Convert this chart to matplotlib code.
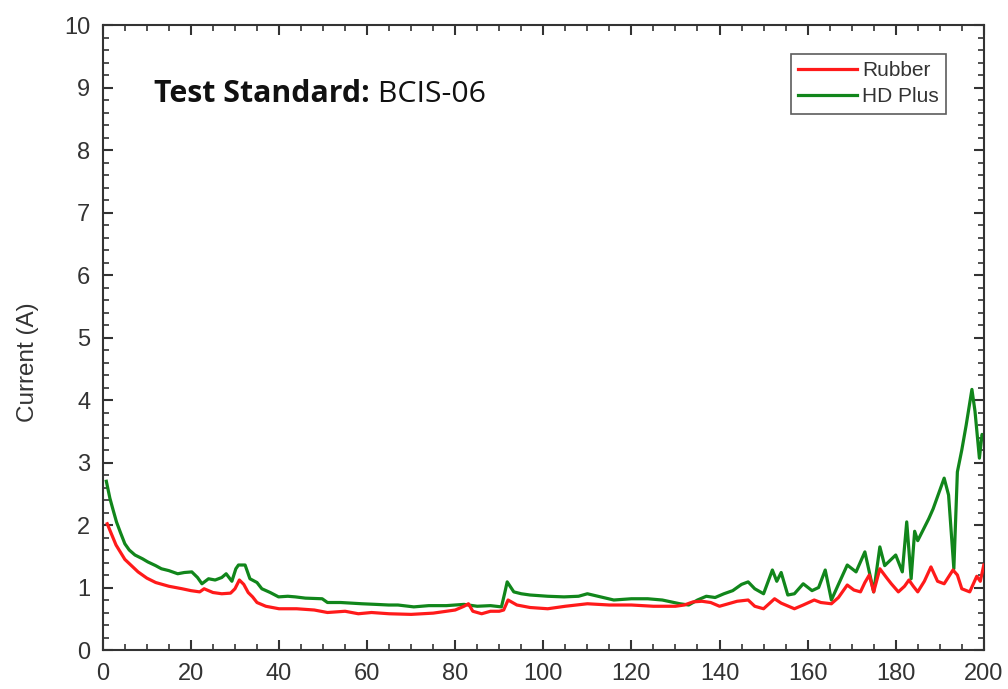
import matplotlib
matplotlib.use("Agg")
import matplotlib.pyplot as plt
from matplotlib.ticker import MultipleLocator
from matplotlib import transforms

# ---- data ----
rubber_x = [1, 2, 3, 5, 8, 10, 12, 15, 18, 20, 22, 23, 25, 27, 29, 30, 31, 32, 33, 34, 35, 37,
            40, 44, 48, 51, 55, 58, 61, 65, 70, 75, 78, 80, 82, 83, 84, 86, 88, 90, 91, 92, 94, 97,
            101, 105, 110, 115, 120, 125, 130, 132, 134, 136, 138, 140, 142, 144, 146.5, 148, 150,
            152.5, 154, 157, 159, 161.5, 163, 165.4, 167, 169, 170.5, 172, 173, 174, 175, 176.4, 178,
            179, 180.6, 182, 183, 184, 185, 186.5, 188, 189.5, 191, 193, 194, 195, 196.8, 198.4,
            199.2, 200]
rubber_y = [2.02, 1.85, 1.68, 1.45, 1.25, 1.15, 1.08, 1.02, 0.98, 0.95, 0.93, 0.98, 0.92, 0.90, 0.91,
            0.98, 1.12, 1.05, 0.92, 0.85, 0.76, 0.70, 0.66, 0.66, 0.64, 0.60, 0.62, 0.58, 0.60, 0.58,
            0.57, 0.59, 0.62, 0.64, 0.70, 0.74, 0.62, 0.58, 0.62, 0.62, 0.64, 0.80, 0.72, 0.68, 0.66,
            0.70, 0.74, 0.72, 0.72, 0.70, 0.70, 0.72, 0.77, 0.78, 0.76, 0.70, 0.74, 0.78, 0.80, 0.70,
            0.66, 0.82, 0.75, 0.66, 0.72, 0.80, 0.76, 0.74, 0.84, 1.04, 0.96, 0.93, 1.08, 1.20, 0.93,
            1.30, 1.15, 1.06, 0.93, 1.02, 1.12, 1.02, 0.93, 1.10, 1.33, 1.10, 1.06, 1.28, 1.20, 0.98,
            0.93, 1.18, 1.10, 1.36]

hd_x = [0.8, 1.6, 2.3, 3.1, 4, 5, 6, 7.3, 9, 10.2, 12, 13.3, 15, 17, 18.5, 20.2, 21.5, 22.5, 24,
        25.5, 27, 28, 29.3, 30.2, 30.8, 32.3, 33.4, 35, 36.1, 38, 39.9, 42, 43.7, 46, 49.8, 51,
        54, 58.8, 62, 64.9, 67, 70.6, 74, 78, 82, 85, 88, 90.5, 91.2, 91.8, 93.3, 95, 97, 101,
        104.7, 108, 110, 113, 116, 120, 123.7, 127, 129, 131, 133, 135, 137, 139, 141, 143, 145,
        146.5, 148, 150, 152, 153, 154, 155.5, 157, 159, 161, 162.5, 164, 165.4, 167, 169, 171,
        173, 175, 176.4, 177.5, 180, 181.5, 182.5, 183.5, 184.3, 185, 187.5, 188.5, 191, 192,
        193.2, 194, 195, 196, 197.3, 198, 199, 199.6, 200]
hd_y = [2.70, 2.43, 2.25, 2.05, 1.88, 1.70, 1.60, 1.52, 1.46, 1.41, 1.35, 1.30, 1.27, 1.22, 1.24,
        1.25, 1.16, 1.06, 1.14, 1.12, 1.16, 1.22, 1.10, 1.30, 1.36, 1.36, 1.14, 1.08, 0.98, 0.92,
        0.85, 0.86, 0.85, 0.83, 0.82, 0.76, 0.76, 0.74, 0.73, 0.72, 0.72, 0.69, 0.71, 0.71, 0.73,
        0.70, 0.71, 0.69, 0.90, 1.09, 0.93, 0.90, 0.88, 0.86, 0.85, 0.86, 0.90, 0.85, 0.80, 0.82,
        0.82, 0.80, 0.77, 0.74, 0.72, 0.80, 0.86, 0.84, 0.90, 0.95, 1.05, 1.09, 0.98, 0.90, 1.28,
        1.10, 1.24, 0.88, 0.90, 1.06, 0.95, 1.00, 1.28, 0.80, 1.05, 1.36, 1.25, 1.57, 0.93, 1.65,
        1.35, 1.52, 1.25, 2.05, 1.14, 1.90, 1.75, 2.10, 2.26, 2.75, 2.48, 1.30, 2.85, 3.20, 3.60,
        4.17, 3.82, 3.07, 3.45, 3.40]

x_ticks = list(range(0, 201, 20))
y_ticks = list(range(0, 11))
title_bold = "Test Standard:"
title_regular = " BCIS-06"

fig = plt.figure(figsize=(10.08, 6.89), dpi=100)
ax = fig.add_axes([0.102, 0.0566, 0.874, 0.907])

ax.plot(hd_x, hd_y, color="#11861b", lw=2.3, label="HD Plus", zorder=2)
ax.plot(rubber_x, rubber_y, color="#ff1a1a", lw=2.3, label="Rubber", zorder=3)

ax.set_xlim(0, 200)
ax.set_ylim(0, 10)
ax.set_xticks(x_ticks)
ax.set_yticks(y_ticks)
ax.xaxis.set_minor_locator(MultipleLocator(5))
ax.yaxis.set_minor_locator(MultipleLocator(0.2))
ax.tick_params(which="both", direction="in", top=True, right=True, color="#333333", pad=9)
ax.tick_params(which="major", length=7, width=1.5)
ax.tick_params(which="minor", length=4, width=1.2)
for lab in ax.get_xticklabels() + ax.get_yticklabels():
    lab.set_fontfamily("Liberation Sans")
    lab.set_fontsize(17)
    lab.set_color("#333333")
for s in ax.spines.values():
    s.set_linewidth(1.5)
    s.set_color("#333333")

ax.set_ylabel("Current (A)", fontfamily="Liberation Sans", fontsize=17.5, color="#333333")
ax.yaxis.set_label_coords(-0.073, 0.46)

handles, labels = ax.get_legend_handles_labels()
leg = ax.legend(handles[::-1], labels[::-1], loc="upper right", bbox_to_anchor=(0.957, 0.954),
                frameon=True, fancybox=False, edgecolor="#333333",
                prop={"family": "Liberation Sans", "size": 15},
                handlelength=2.8, borderpad=0.35, labelspacing=0.35, handletextpad=0.25,
                borderaxespad=0)
leg.get_frame().set_linewidth(1.2)
for t in leg.get_texts():
    t.set_color("#333333")

t1 = ax.text(0.058, 0.877, title_bold, transform=ax.transAxes, fontsize=21.8,
             fontfamily="Open Sans", fontweight="bold", va="baseline", color="#111111")
fig.canvas.draw()
ext = t1.get_window_extent()
ax.text(0.0, 0.877, title_regular, fontsize=21.8, fontfamily="Open Sans", va="baseline",
        color="#111111",
        transform=transforms.offset_copy(ax.transAxes, fig=fig, x=ext.x1 - ax.bbox.x0, units="dots"))
plt.savefig("out.png", dpi=100)
